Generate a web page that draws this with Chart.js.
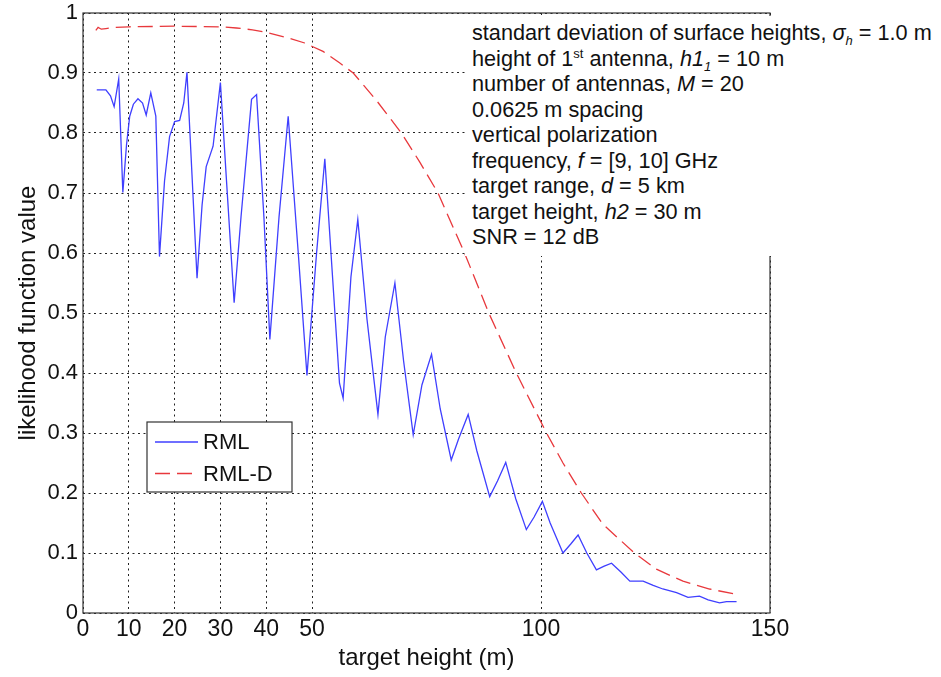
<!DOCTYPE html>
<html>
<head>
<meta charset="utf-8">
<script src="https://cdn.jsdelivr.net/npm/chart.js@4.4.1/dist/chart.umd.min.js"></script>
<style>
  body { margin: 0; background: #fff; }
  #wrap { position: relative; width: 941px; height: 677px; }
  #notes {
    position: absolute; left: 465px; top: 16px; width: 476px; height: 240px;
    background: #fff; color: #111; white-space: nowrap; box-sizing: border-box;
    font: 21.7px "Liberation Sans", Arial, sans-serif; line-height: 25.5px; padding: 4px 0 0 7px;
  }
  #notes sub, #notes sup { font-size: 13px; line-height: 0; }
</style>
</head>
<body>
<div id="wrap">
  <canvas id="myChart" width="941" height="677"></canvas>
  <div id="notes">
    standart deviation of surface heights, <i>σ<sub>h</sub></i> = 1.0 m<br>
    height of 1<sup>st</sup> antenna, <i>h1<sub>1</sub></i> = 10 m<br>
    number of antennas, <i>M</i> = 20<br>
    0.0625 m spacing<br>
    vertical polarization<br>
    frequency, <i>f</i> = [9, 10] GHz<br>
    target range, <i>d</i> = 5 km<br>
    target height, <i>h2</i> = 30 m<br>
    SNR = 12 dB
  </div>
</div>
<script>
let myChart = document.getElementById("myChart").getContext("2d");

// axis ticks (matlab style: only these on x)
let xTicks = [0, 10, 20, 30, 40, 50, 100, 150];
let yTicks = [0, 0.1, 0.2, 0.3, 0.4, 0.5, 0.6, 0.7, 0.8, 0.9, 1];

// RML curve
let rmlHeight = [3, 5, 6, 6.8, 7.8, 8.7, 9.5, 10.2, 11, 12, 13, 13.8, 14.8, 15.9, 16.7, 17.8, 18.9, 20, 21.1, 22, 22.7,
  23.8, 24.9, 26, 26.9, 28.4, 30, 31.5, 33, 34.5, 36.8, 37.9, 39.5, 40.8, 42.8, 44.8, 47, 48.9, 51, 52.8, 55, 56, 56.8,
  58.5, 60, 62, 64.4, 66, 68.1, 70, 72.1, 74, 76.1, 78, 80.4, 82, 84.1, 86, 88.8, 90.5, 92.3, 94.5, 96.8, 98.5, 100.3,
  102, 104.8, 106.5, 108.1, 110, 112.1, 113.8, 115.4, 117.5, 119.4, 122.3, 124.5, 126.6, 129.6, 132.1, 134.6, 136.5,
  139, 140.5, 142.7];
let rmlValue = [0.872, 0.872, 0.862, 0.844, 0.89, 0.701, 0.78, 0.828, 0.848, 0.857, 0.85, 0.83, 0.867, 0.828, 0.594,
  0.72, 0.794, 0.819, 0.821, 0.85, 0.901, 0.73, 0.558, 0.68, 0.744, 0.778, 0.884, 0.7, 0.517, 0.66, 0.856, 0.864, 0.66,
  0.456, 0.66, 0.828, 0.6, 0.396, 0.6, 0.757, 0.5, 0.383, 0.358, 0.56, 0.656, 0.49, 0.331, 0.46, 0.55, 0.42, 0.297,
  0.38, 0.431, 0.34, 0.255, 0.29, 0.331, 0.27, 0.194, 0.22, 0.251, 0.19, 0.139, 0.16, 0.186, 0.15, 0.1, 0.115, 0.13,
  0.1, 0.072, 0.078, 0.083, 0.068, 0.053, 0.053, 0.046, 0.04, 0.034, 0.026, 0.028, 0.022, 0.017, 0.019, 0.019];

// RML-D curve
let rmldHeight = [2.8, 3.3, 4, 5, 7, 10, 20, 30, 33.5, 37, 40, 45, 48.4, 52.4, 56, 59, 64, 69.5, 73.5, 77.5, 83.3,
  88.6, 94.6, 101.2, 104.8, 108.8, 113.5, 120.4, 125.2, 131, 136.8, 142.7];
let rmldValue = [0.971, 0.976, 0.973, 0.974, 0.976, 0.977, 0.978, 0.977, 0.975, 0.972, 0.968, 0.958, 0.95, 0.936,
  0.917, 0.9, 0.855, 0.8, 0.752, 0.7, 0.6, 0.5, 0.4, 0.3, 0.25, 0.2, 0.148, 0.1, 0.073, 0.053, 0.04, 0.031];

function toPoints(xs, ys) {
  return xs.map((x, i) => ({ x: x, y: ys[i] }));
}

let font = '"Liberation Sans", Arial, sans-serif';

//frame round the plot + legend box inside it
let boxPlugin = {
  id: "boxPlugin",
  afterDraw(chart) {
    let ctx = chart.ctx;
    let area = chart.chartArea;
    ctx.save();
    ctx.strokeStyle = "#333";
    ctx.lineWidth = 1.2;
    ctx.strokeRect(area.left, area.top, area.right - area.left, area.bottom - area.top);

    let x = area.left + 64, y = area.top + 409, w = 145, h = 70;
    ctx.fillStyle = "#fff";
    ctx.fillRect(x, y, w, h);
    ctx.strokeRect(x, y, w, h);
    chart.data.datasets.forEach((ds, i) => {
      let ly = y + 20 + i * 31.5;
      ctx.strokeStyle = ds.borderColor;
      ctx.lineWidth = ds.borderWidth;
      ctx.setLineDash(ds.borderDash || []);
      ctx.beginPath();
      ctx.moveTo(x + 8, ly);
      ctx.lineTo(x + 51, ly);
      ctx.stroke();
      ctx.setLineDash([]);
      ctx.fillStyle = "#111";
      ctx.font = "22px " + font;
      ctx.textBaseline = "middle";
      ctx.fillText(ds.label, x + 56, ly + 1);
    });
    ctx.restore();
  }
};

let gridStyle = { color: "#222", lineWidth: 1, drawTicks: false };
let dots = { display: false, dash: [2, 3.5] };

new Chart(myChart, {
  type: "line",
  data: {
    datasets: [
      {
        label: "RML",
        data: toPoints(rmlHeight, rmlValue),
        borderColor: "#3f3fff",
        borderWidth: 1.3,
        pointRadius: 0,
        pointHoverRadius: 0,
        tension: 0
      },
      {
        label: "RML-D",
        data: toPoints(rmldHeight, rmldValue),
        borderColor: "#e8383c",
        borderWidth: 1.3,
        borderDash: [15, 7],
        pointRadius: 0,
        pointHoverRadius: 0,
        tension: 0
      }
    ]
  },
  options: {
    responsive: false,
    animation: false,
    devicePixelRatio: 1,
    layout: { autoPadding: false, padding: { left: 0, right: 171, top: 13, bottom: 0 } },
    plugins: { legend: { display: false }, tooltip: { enabled: false } },
    scales: {
      x: {
        type: "linear",
        min: 0,
        max: 150,
        afterBuildTicks: s => { s.ticks = xTicks.map(v => ({ value: v })); },
        afterFit: s => { s.height = 64; },
        grid: gridStyle,
        border: dots,
        ticks: { color: "#111", padding: 5, maxRotation: 0, font: { family: font, size: 23, lineHeight: 1 } },
        title: { display: true, text: "target height (m)", color: "#111", padding: { top: 0, bottom: 4 }, font: { family: font, size: 24 } }
      },
      y: {
        min: 0,
        max: 1,
        afterBuildTicks: s => { s.ticks = yTicks.map(v => ({ value: v })); },
        // fixed width, and no extra top/bottom room for the end labels
        afterFit: s => { s.width = 83; s.paddingTop = 0; s.paddingBottom = 0; },
        grid: gridStyle,
        border: dots,
        ticks: { color: "#111", padding: 5, font: { family: font, size: 22, lineHeight: 1 }, callback: v => String(v) },
        title: { display: true, text: "likelihood function value", color: "#111", padding: { top: 14, bottom: 0 }, font: { family: font, size: 24 } }
      }
    }
  },
  plugins: [boxPlugin]
});
</script>
</body>
</html>
